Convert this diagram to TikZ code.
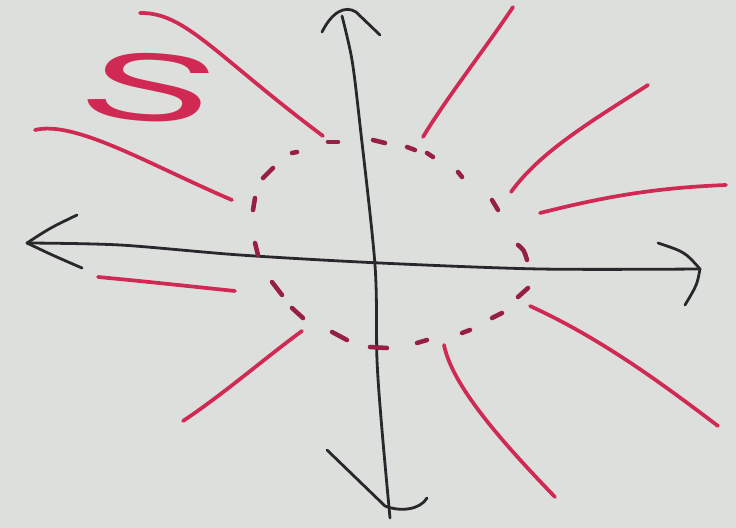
\documentclass[tikz,border=0pt]{standalone}
\usepackage{fontspec}
\setmainfont{Liberation Sans}
\definecolor{paper}{RGB}{221,223,220}
\definecolor{ink}{RGB}{40,40,44}
\definecolor{marker}{RGB}{208,42,84}
\definecolor{dashred}{RGB}{150,32,66}
\begin{document}
\begin{tikzpicture}[x=0.75pt,y=-0.75pt,
  axis/.style={draw=ink,line width=2.1pt,line cap=round,line join=round},
  ray/.style={draw=marker,line width=2.8pt,line cap=round},
  dot/.style={draw=dashred,line width=3.4pt,line cap=round}]
\fill[paper] (0,0) rectangle (736,528);
\useasboundingbox (0,0) rectangle (736,528);
% horizontal axis
\coordinate (L) at (27,243);
\coordinate (R) at (700,269);
\draw[axis] plot[smooth] coordinates {(L) (120,245) (240,255) (380,263) (540,269) (R)};
\draw[axis] (77,215) .. controls (50,228) .. (L) .. controls (52,255) .. (82,268);
\draw[axis] (658,243) .. controls (685,252) .. (R) .. controls (697,285) .. (685,305);
% vertical axis
\coordinate (T) at (342,16);
\coordinate (B) at (390,518);
\draw[axis] plot[smooth] coordinates {(T) (352,60) (360,125) (375,265) (377,360) (382,430) (B)};
\draw[axis] (322,32) .. controls (332,12) and (345,5) .. (356,12) -- (380,35);
\draw[axis] (327,450) -- (385,506) .. controls (400,512) and (420,510) .. (427,498);
% dashed circle
\draw[dot] (328,142) -- (338,142);
\draw[dot] (373,140) -- (385,143);
\draw[dot] (407,147) -- (415,150);
\draw[dot] (427,153) -- (433,157);
\draw[dot] (458,172) -- (462,177);
\draw[dot] (492,200) -- (498,210);
\draw[dot] (518,245) .. controls (524,250) .. (527,260);
\draw[dot] (518,297) -- (528,288);
\draw[dot] (492,318) -- (502,313);
\draw[dot] (462,333) -- (470,330);
\draw[dot] (417,343) -- (427,340);
\draw[dot] (370,347) -- (387,348);
\draw[dot] (332,332) -- (347,340);
\draw[dot] (292,308) -- (303,318);
\draw[dot] (272,282) -- (282,295);
\draw[dot] (255,243) -- (258,255);
\draw[dot] (253,210) -- (255,198);
\draw[dot] (263,178) -- (273,168);
\draw[dot] (292,153) -- (297,152);
% rays
\draw[ray] (140,13) .. controls (185,12) and (215,55) .. (323,136);
\draw[ray] (35,130) .. controls (75,120) and (150,165) .. (232,200);
\draw[ray] (513,7) .. controls (490,42) and (445,100) .. (423,137);
\draw[ray] (648,85) .. controls (590,122) and (540,152) .. (511,192);
\draw[ray] (726,185) .. controls (650,188) and (600,198) .. (540,213);
\draw[ray] (98,277) .. controls (140,281) .. (235,291);
\draw[ray] (302,331) .. controls (265,358) and (225,393) .. (183,421);
\draw[ray] (444,345) .. controls (452,385) and (500,440) .. (555,497);
\draw[ray] (530,306) .. controls (600,338) and (660,382) .. (718,426);
% letter
\node[text=marker,inner sep=0pt,xscale=2.05,rotate=-10,font=\fontsize{72}{72}\selectfont] (S) at (150,88) {S};
\end{tikzpicture}
\end{document}
